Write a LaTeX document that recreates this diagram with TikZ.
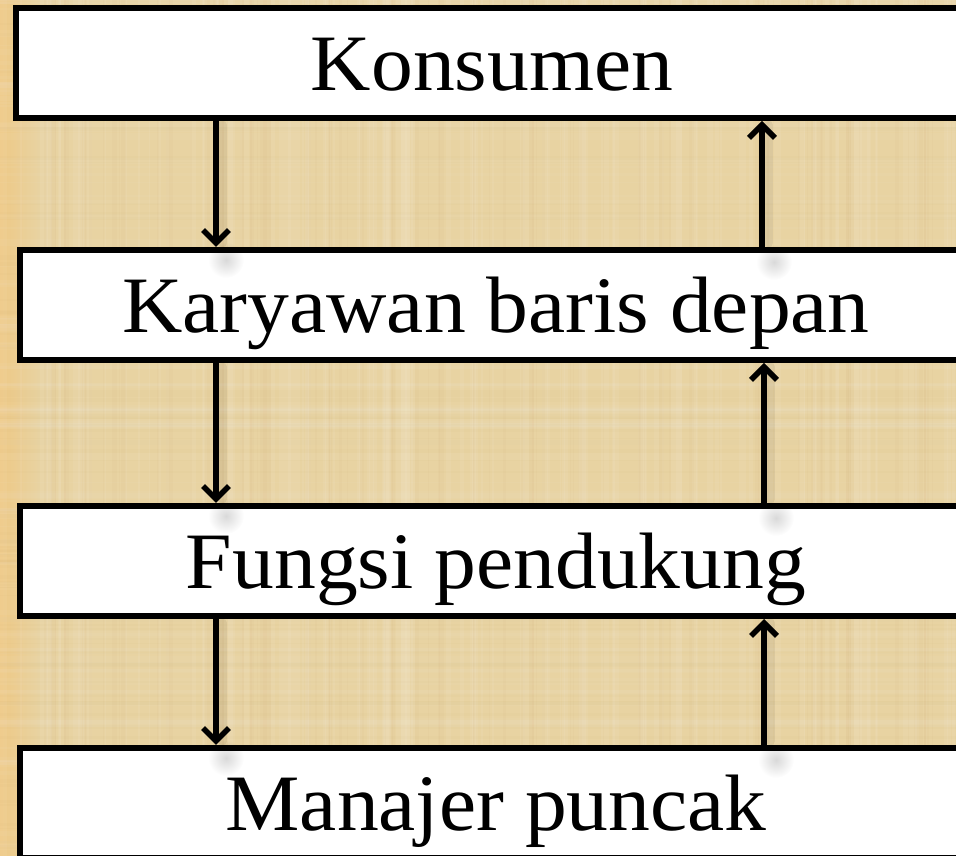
\documentclass[tikz,border=0pt]{standalone}
\usepackage{fontspec}
\setmainfont{Liberation Serif}[FakeStretch=1.045]
\usetikzlibrary{arrows.meta,fadings}
\definecolor{papyrus}{RGB}{232,211,162}
\definecolor{papyrusedge}{RGB}{238,201,134}
\definecolor{fiberdark}{RGB}{196,166,104}
\tikzfading[name=softspot, inner color=transparent!0, outer color=transparent!100]
\begin{document}
\begin{tikzpicture}[x=1pt,y=1pt,
  level/.style={draw=black, line width=6pt, fill=white, minimum width=952pt,
    minimum height=110pt, inner sep=0pt, text height=55pt, text depth=0pt,
    font=\fontsize{80}{96}\selectfont},
  flow/.style={line width=5.5pt, -{Straight Barb[length=13pt,width=26pt]}},
  flowshadow/.style={line width=9pt, black, opacity=0.06, line cap=round},
  tipshadow/.style={black, opacity=0.15, path fading=softspot}]

% page and papyrus background
\useasboundingbox (0,0) rectangle (956,856);
\clip (0,0) rectangle (956,856);
\fill[papyrus] (0,0) rectangle (956,856);
\fill[left color=papyrusedge, right color=papyrus] (0,0) rectangle (40,856);

% woven fibres of the papyrus
\pgfmathsetseed{11}
\foreach \i in {1,...,120}{
  \pgfmathsetmacro\xx{random(0,956)}
  \pgfmathsetmacro\ww{random(1,8)}
  \fill[white, opacity=0.06] (\xx,0) rectangle ++(\ww,856);
}
\foreach \i in {1,...,90}{
  \pgfmathsetmacro\xx{random(0,956)}
  \pgfmathsetmacro\ww{random(1,5)}
  \fill[fiberdark, opacity=0.05] (\xx,0) rectangle ++(\ww,856);
}
\foreach \i in {1,...,110}{
  \pgfmathsetmacro\yy{random(0,856)}
  \pgfmathsetmacro\hh{random(1,7)}
  \fill[white, opacity=0.04] (0,\yy) rectangle ++(956,\hh);
}
\foreach \i in {1,...,80}{
  \pgfmathsetmacro\yy{random(0,856)}
  \pgfmathsetmacro\hh{random(1,4)}
  \fill[fiberdark, opacity=0.04] (0,\yy) rectangle ++(956,\hh);
}

% the four levels
\node[level] (kon) at (492,793) {Konsumen};
\node[level] (kbd) at (496,551) {Karyawan baris depan};
\node[level] (fpd) at (496,295) {Fungsi pendukung};
\node[level] (mpc) at (496,53)  {Manajer puncak};

% soft shadows of the connectors
\foreach \a/\b/\x in {kon/kbd/216, kbd/fpd/216, fpd/mpc/216}{
  \draw[flowshadow] ([xshift=6pt,yshift=-4pt]\a.south -| \x,0) -- ([xshift=6pt,yshift=4pt]\b.north -| \x,0);
  \fill[tipshadow] ([xshift=10pt,yshift=-13pt]\b.north -| \x,0) circle (18pt);
}
\foreach \a/\b/\x in {kbd/kon/762, fpd/kbd/764, mpc/fpd/764}{
  \draw[flowshadow] ([xshift=6pt,yshift=4pt]\a.north -| \x,0) -- ([xshift=6pt,yshift=-4pt]\b.south -| \x,0);
  \fill[tipshadow] ([xshift=12pt,yshift=-15pt]\a.north -| \x,0) circle (18pt);
}

% downward flow on the left
\draw[flow] (kon.south -| 216,0) -- (kbd.north -| 216,0);
\draw[flow] (kbd.south -| 216,0) -- (fpd.north -| 216,0);
\draw[flow] (fpd.south -| 216,0) -- (mpc.north -| 216,0);

% upward flow on the right
\draw[flow] (kbd.north -| 762,0) -- (kon.south -| 762,0);
\draw[flow] (fpd.north -| 764,0) -- (kbd.south -| 764,0);
\draw[flow] (mpc.north -| 764,0) -- (fpd.south -| 764,0);
\end{tikzpicture}
\end{document}
